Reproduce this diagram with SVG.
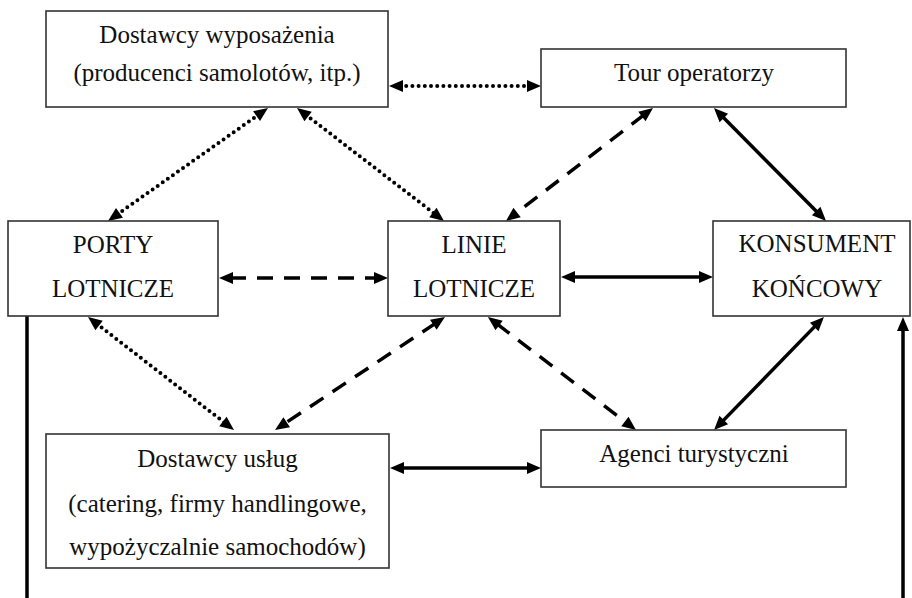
<svg xmlns="http://www.w3.org/2000/svg" width="912" height="598" viewBox="0 0 912 598">
<defs>
<style>
.box{fill:#fff;stroke:#333;stroke-width:1.6}
.t{font-family:'Liberation Serif','Times New Roman',Times,'DejaVu Serif',serif;font-size:25px;fill:#111;text-anchor:middle}
.c{fill:none;stroke:#000;stroke-width:3.5}
.dot{stroke-width:4;stroke-dasharray:0 6.2;stroke-linecap:round}
.dash{stroke-dasharray:16 11}
.ar{marker-start:url(#ah);marker-end:url(#ah)}
</style>
<marker id="ah" markerUnits="userSpaceOnUse" markerWidth="14" markerHeight="12" refX="3" refY="6" orient="auto-start-reverse" overflow="visible">
<path d="M0,0 L14,6 L0,12 z" fill="#000" stroke="none"/>
</marker>
</defs>
<rect width="912" height="598" fill="#fff"/>
<g id="connectors">
<line class="c dot ar" x1="400" y1="86" x2="530" y2="86"/>
<line class="c dot ar" x1="259" y1="114.4" x2="117" y2="214.6"/>
<line class="c dot ar" x1="305.7" y1="114.7" x2="435.3" y2="214.3"/>
<line class="c dash ar" x1="644.3" y1="114.7" x2="514.7" y2="214.3"/>
<line class="c ar" x1="721.7" y1="115.8" x2="818.3" y2="213.2"/>
<line class="c dash ar" x1="230" y1="278" x2="377" y2="278"/>
<line class="c ar" x1="572" y1="277" x2="702" y2="277"/>
<line class="c dot ar" x1="96.7" y1="323.7" x2="225.3" y2="423.3"/>
<line class="c dash ar" x1="435.8" y1="323.1" x2="284.2" y2="423.9"/>
<line class="c dash ar" x1="496.7" y1="323.7" x2="627.3" y2="423.3"/>
<line class="c ar" x1="816.3" y1="324.9" x2="721.7" y2="422.1"/>
<line class="c ar" x1="401" y1="468" x2="530" y2="468"/>
<path class="c" d="M27,316 L27,600 L903,600 L903,328" marker-end="url(#ah)"/>
</g>
<g id="dostawcy-wyposazenia">
<rect class="box" x="46" y="11" width="342" height="96"/>
<text class="t" font-family="Liberation Serif, serif" x="217" y="43">Dostawcy wyposażenia</text>
<text class="t" font-family="Liberation Serif, serif" x="217" y="81">(producenci samolotów, itp.)</text>
</g>
<g id="tour-operatorzy">
<rect class="box" x="541" y="49" width="305" height="58"/>
<text class="t" x="694" y="81">Tour operatorzy</text>
</g>
<g id="porty-lotnicze">
<rect class="box" x="8" y="221" width="210" height="95"/>
<text class="t" x="113" y="253">PORTY</text>
<text class="t" x="113" y="297">LOTNICZE</text>
</g>
<g id="linie-lotnicze">
<rect class="box" x="388" y="221" width="172" height="95"/>
<text class="t" x="474" y="253">LINIE</text>
<text class="t" x="474" y="297">LOTNICZE</text>
</g>
<g id="konsument-koncowy">
<rect class="box" x="713" y="221" width="197" height="95"/>
<text class="t" x="817" y="252">KONSUMENT</text>
<text class="t" x="817" y="297">KOŃCOWY</text>
</g>
<g id="dostawcy-uslug">
<rect class="box" x="46" y="434" width="343" height="134"/>
<text class="t" x="217.5" y="467">Dostawcy usług</text>
<text class="t" x="217.5" y="512">(catering, firmy handlingowe,</text>
<text class="t" x="217.5" y="555">wypożyczalnie samochodów)</text>
</g>
<g id="agenci-turystyczni">
<rect class="box" x="541" y="430" width="305" height="57"/>
<text class="t" x="694" y="462">Agenci turystyczni</text>
</g>
</svg>
